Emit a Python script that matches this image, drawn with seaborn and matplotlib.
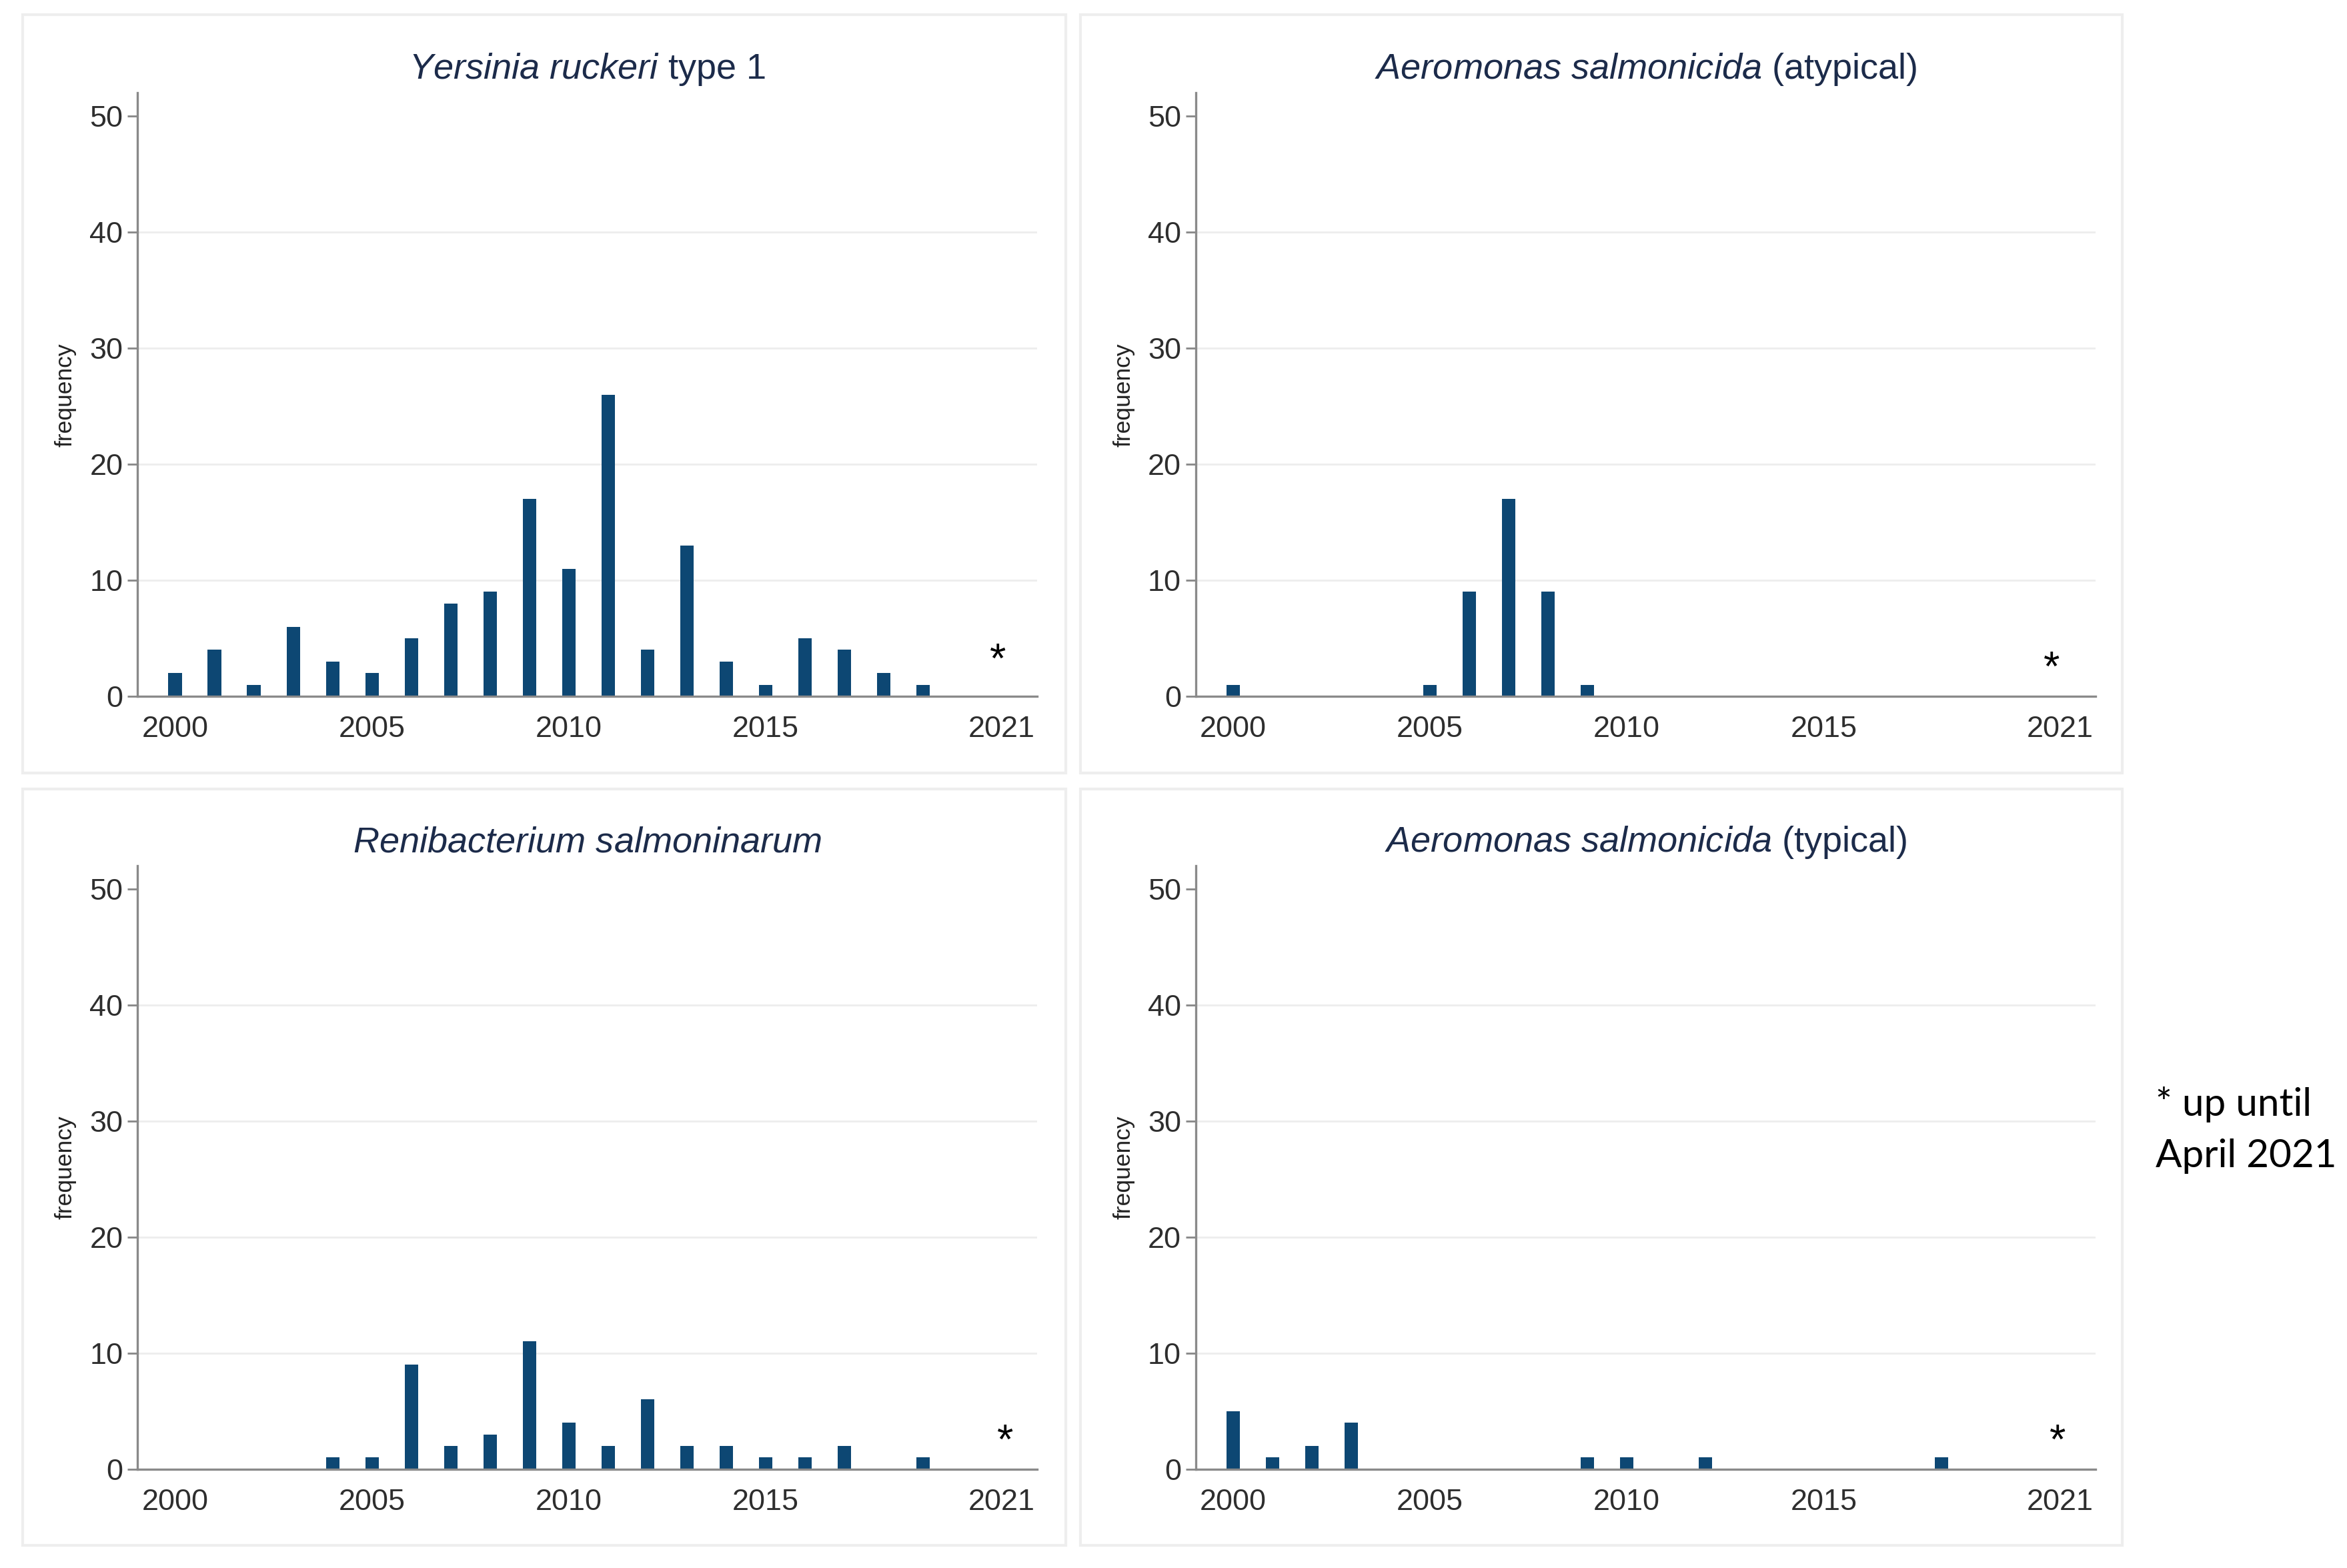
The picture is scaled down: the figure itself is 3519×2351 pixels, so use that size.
import numpy as np
import pandas as pd
import matplotlib
matplotlib.use("Agg")
import matplotlib.pyplot as plt
import seaborn as sns
from matplotlib.patches import Rectangle

# ---------------- data ----------------
years = list(range(2000, 2021))
yersinia_type1 = [2, 4, 1, 6, 3, 2, 5, 8, 9, 17, 11, 26, 4, 13, 3, 1, 5, 4, 2, 1, 0]
aeromonas_atypical = [1, 0, 0, 0, 0, 1, 9, 17, 9, 1, 0, 0, 0, 0, 0, 0, 0, 0, 0, 0, 0]
renibacterium = [0, 0, 0, 0, 1, 1, 9, 2, 3, 11, 4, 2, 6, 2, 2, 1, 1, 2, 0, 1, 0]
aeromonas_typical = [5, 1, 2, 4, 0, 0, 0, 0, 0, 1, 1, 0, 1, 0, 0, 0, 0, 0, 1, 0, 0]

titles = [
    r"$\mathit{Yersinia\ ruckeri}$ type 1",
    r"$\mathit{Aeromonas\ salmonicida}$ (atypical)",
    r"$\mathit{Renibacterium\ salmoninarum}$",
    r"$\mathit{Aeromonas\ salmonicida}$ (typical)",
]
series = [yersinia_type1, aeromonas_atypical, renibacterium, aeromonas_typical]
x_ticks = [2000, 2005, 2010, 2015, 2021]
x_tick_labels = ["2000", "2005", "2010", "2015", "2021"]
y_ticks = [0, 10, 20, 30, 40, 50]
star_year = [2020.9, 2020.8, 2021.1, 2020.95]
star_height = [3.05, 2.35, 2.35, 2.35]
note_text = "* up until\nApril 2021"

# ---------------- style ----------------
sns.set_style("white")
plt.rcParams["font.family"] = ["Liberation Sans", "DejaVu Sans"]
plt.rcParams["mathtext.fontset"] = "custom"
plt.rcParams["mathtext.it"] = "Liberation Sans:italic"
plt.rcParams["mathtext.rm"] = "Liberation Sans"
plt.rcParams["mathtext.default"] = "regular"

W, H = 1568.0, 1047.0  # layout reference frame
fig = plt.figure(figsize=(11.73, 7.837), dpi=300)
fig.patch.set_facecolor("white")

bar_color = "#0d4773"
axis_color = "#8a8a8a"
title_color = "#1c2b4a"

axes_left = [92, 799, 92, 799]
axes_bottom = [465, 465, 981, 981]
axes_w = (693 - 92) / W
axes_h = (465 - 62) / H

panel_boxes = [(15, 10, 712, 516), (722, 10, 1418, 516),
               (15, 527, 712, 1032), (722, 527, 1418, 1032)]

for (x0, y0, x1, y1) in panel_boxes:
    fig.add_artist(Rectangle((x0 / W, 1 - y1 / H), (x1 - x0) / W, (y1 - y0) / H,
                             transform=fig.transFigure, facecolor="none",
                             edgecolor="#eeeeee", linewidth=1.0, zorder=0))

for i in range(4):
    ax = fig.add_axes([axes_left[i] / W, 1 - axes_bottom[i] / H, axes_w, axes_h])
    df = pd.DataFrame({"year": years, "count": series[i]})
    sns.barplot(data=df, x="year", y="count", native_scale=True, width=0.34,
                color=bar_color, saturation=1, linewidth=0, ax=ax, zorder=3)
    ax.set_xlim(1999.05, 2021.91)
    ax.set_ylim(0, 52)
    ax.set_xticks(x_ticks)
    ax.set_xticklabels(x_tick_labels)
    ax.set_yticks(y_ticks)
    ax.set_yticklabels([str(v) for v in y_ticks])
    ax.tick_params(axis="x", length=0, pad=7, labelsize=10.8, labelcolor="#2e2e2e")
    ax.tick_params(axis="y", left=True, length=3.5, width=0.7, color=axis_color,
                   pad=1.8, labelsize=10.8, labelcolor="#2e2e2e")
    for s in ["top", "right"]:
        ax.spines[s].set_visible(False)
    for s in ["left", "bottom"]:
        ax.spines[s].set_color(axis_color)
        ax.spines[s].set_linewidth(0.8)
        ax.spines[s].set_zorder(4)
    ax.yaxis.grid(True, color="#eeeeee", linewidth=0.7, zorder=0)
    ax.xaxis.grid(False)
    gl = ax.get_ygridlines()
    gl[0].set_visible(False)
    gl[-1].set_visible(False)
    ax.set_axisbelow(True)
    ax.set_xlabel("")
    ax.set_ylabel("frequency", fontsize=8.5, color="#222222")
    ax.yaxis.set_label_coords(-0.068, 0.5)
    ax.set_title(titles[i], fontsize=13, color=title_color, pad=5)
    ax.text(star_year[i], star_height[i], "*", ha="center", va="center",
            fontsize=15, color="black", zorder=5)

fig.text(1440 / W, 1 - 754.5 / H, note_text, ha="left", va="center",
         fontsize=14, family=["Lato", "DejaVu Sans"], color="black",
         linespacing=1.55)

fig.savefig("out.png", dpi=300, facecolor="white")
